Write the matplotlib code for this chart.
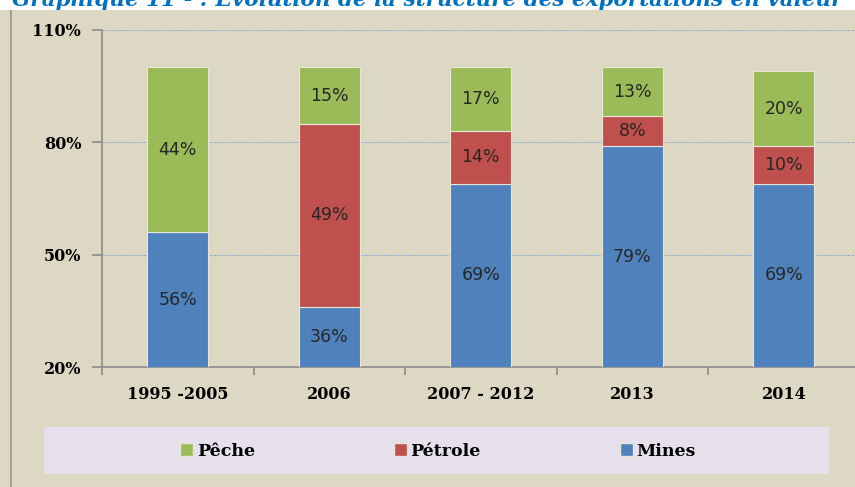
import numpy as np
import matplotlib
matplotlib.use("Agg")
import matplotlib.pyplot as plt
from matplotlib.patches import Rectangle, Patch

# data (shares of export value, %)
periods = ["1995 -2005", "2006", "2007 - 2012", "2013", "2014"]
mines = [56, 36, 69, 79, 69]
petrole = [0, 49, 14, 8, 10]
peche = [44, 15, 17, 13, 20]
yticks = [20, 50, 80, 110]

c_mines = "#4F81BD"
c_petrole = "#C0504D"
c_peche = "#9BBB59"
beige = "#DDD8C3"
serif = "DejaVu Serif"

W, H = 855, 487
fig = plt.figure(figsize=(W / 100, H / 100), dpi=100)
fig.patch.set_facecolor("white")

# title, mostly cut off at the top of the picture (as in the source)
fig.text(12 / W, 1 - 6 / H,
         "Graphique 11 - : Evolution de la structure des exportations en valeur",
         color="#0070C0", fontsize=15.5, fontstyle="italic", fontweight="bold",
         family=serif, va="baseline", ha="left", zorder=0)

# beige chart area and its left border
fig.add_artist(Rectangle((0, 0), 1, 1 - 10 / H, transform=fig.transFigure,
                         facecolor=beige, edgecolor="none", zorder=1))
fig.add_artist(Rectangle((10 / W, 0), 2 / W, 1 - 10 / H, transform=fig.transFigure,
                         facecolor="#A0A0A0", edgecolor="none", zorder=1.1))
# legend box
fig.add_artist(Rectangle((44 / W, 13 / H), 785 / W, 47 / H, transform=fig.transFigure,
                         facecolor="#E5E0EC", edgecolor="none", zorder=1.2))

ax = fig.add_axes([102 / W, 120 / H, 757.5 / W, 337 / H])
ax.set_zorder(2)
ax.patch.set_visible(False)

x = np.arange(len(periods))
mines = np.array(mines, float)
petrole = np.array(petrole, float)
peche = np.array(peche, float)
bw = 0.4
ymin, ymax = 20, 110

edge = dict(edgecolor="#E8E6D8", linewidth=0.8)
ax.bar(x, mines, bw, color=c_mines, zorder=3, **edge)
ax.bar(x, petrole, bw, bottom=mines, color=c_petrole, zorder=3, **edge)
ax.bar(x, peche, bw, bottom=mines + petrole, color=c_peche, zorder=3, **edge)

# value labels centred on the visible part of each segment
for i in range(len(x)):
    bottoms = [0, mines[i], mines[i] + petrole[i]]
    vals = [mines[i], petrole[i], peche[i]]
    for b, v in zip(bottoms, vals):
        if v <= 0:
            continue
        lo = max(b, ymin)
        hi = b + v
        ax.text(x[i], (lo + hi) / 2, f"{int(v)}%", ha="center", va="center",
                fontsize=12.5, color="#262626", zorder=4)

ax.set_ylim(ymin, ymax)
ax.set_xlim(-0.5, len(periods) - 0.5)

for y in [50, 80, 110]:
    ax.axhline(y, color="#6E9BD1", linewidth=0.8, linestyle=(0, (1, 1.2)), zorder=1)

for s in ["top", "right"]:
    ax.spines[s].set_visible(False)
for s in ["left", "bottom"]:
    ax.spines[s].set_color("#8C8C8C")
    ax.spines[s].set_linewidth(1.2)

ax.set_yticks(yticks)
ax.set_yticklabels([f"{v}%" for v in yticks], family=serif, fontweight="bold",
                   fontsize=11.5)
ax.tick_params(axis="y", length=7, width=1.2, color="#8C8C8C", pad=8)

ax.set_xticks(x)
ax.set_xticklabels(periods, family=serif, fontweight="bold", fontsize=11.5)
ax.tick_params(axis="x", which="major", length=0, pad=14)
ax.set_xticks(np.arange(-0.5, len(periods), 1.0), minor=True)
ax.tick_params(axis="x", which="minor", length=6, width=1.2, color="#8C8C8C")

handles = [Patch(facecolor=c_peche, edgecolor="#E8E6D8", label="Pêche"),
           Patch(facecolor=c_petrole, edgecolor="#E8E6D8", label="Pétrole"),
           Patch(facecolor=c_mines, edgecolor="#E8E6D8", label="Mines")]
leg = fig.legend(handles=handles, loc="center", bbox_to_anchor=(438 / W, 36 / H),
                 ncol=3, frameon=False, columnspacing=8.0, handlelength=0.75,
                 handleheight=0.7, handletextpad=0.2,
                 prop={"family": serif, "weight": "bold", "size": 12.5})
leg.set_zorder(5)

fig.savefig("out.png", dpi=100)
